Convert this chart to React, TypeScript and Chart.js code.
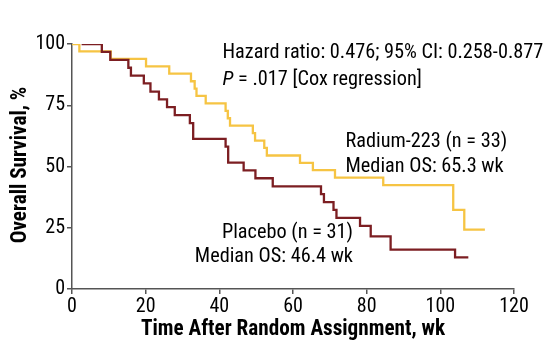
import React, { useEffect, useRef } from "react";
import { Chart, registerables } from "chart.js";

Chart.register(...registerables);

const radiumTimes = [0, 2.0, 10.5, 20.1, 26.4, 32.3, 33.3, 33.8, 36.3, 41.7, 42.3, 42.9, 49.1, 49.7, 52.2, 52.9, 61.9, 65.4, 71.4, 84.5, 103.5, 106.5, 112.1];
const radiumSurvival = [100, 97.0, 93.9, 90.9, 87.9, 84.8, 81.8, 78.8, 75.8, 72.7, 69.7, 66.7, 63.6, 60.6, 57.6, 54.5, 51.5, 48.5, 45.5, 42.4, 32.3, 24.2, 24.2];

const placeboTimes = [2.6, 8.1, 10.4, 15.3, 16.0, 19.5, 21.3, 23.6, 25.8, 27.9, 32.0, 32.9, 41.7, 42.4, 46.6, 49.8, 54.5, 67.6, 68.4, 71.0, 71.8, 78.2, 81.1, 86.5, 104.0, 107.6];
const placeboSurvival = [100, 96.8, 93.5, 90.3, 87.1, 83.9, 80.6, 77.4, 74.2, 71.0, 67.7, 61.3, 58.1, 51.6, 48.4, 45.2, 41.9, 38.7, 35.5, 32.3, 29.0, 25.8, 21.5, 16.1, 12.9, 12.9];

const xTicks = [0, 20, 40, 60, 80, 100, 120];
const yTicks = [0, 25, 50, 75, 100];

const xTitle = "Time After Random Assignment, wk";
const yTitle = "Overall Survival, %";
const hrText = "Hazard ratio: 0.476; 95% CI: 0.258-0.877";
const pLabel = "P";
const pText = " = .017 [Cox regression]";
const radiumLines = ["Radium-223 (n = 33)", "Median OS: 65.3 wk"];
const placeboLines = ["Placebo (n = 31)", "Median OS: 46.4 wk"];

const FAMILY = '"Roboto Condensed", Roboto, sans-serif';
const YELLOW = "#F6C443";
const MAROON = "#7C1E22";
const AXIS = "#555555";

export default function App() {
  const ref = useRef<HTMLCanvasElement | null>(null);

  useEffect(() => {
    if (!ref.current) return;
    const textPlugin = {
      id: "texts",
      afterDraw(chart: any) {
        const ctx = chart.ctx as CanvasRenderingContext2D;
        ctx.save();
        ctx.fillStyle = "#000";
        ctx.textBaseline = "middle";
        ctx.font = `20.3px ${FAMILY}`;
        ctx.textAlign = "left";
        ctx.fillText(hrText, 222.5, 53);
        ctx.font = `italic 20.3px ${FAMILY}`;
        ctx.fillText(pLabel, 222.5, 80);
        const pw = ctx.measureText(pLabel).width;
        ctx.font = `20.3px ${FAMILY}`;
        ctx.fillText(pText, 222.5 + pw, 80);
        ctx.fillText(radiumLines[0], 345.5, 141.5);
        ctx.fillText(radiumLines[1], 345.5, 166.5);
        ctx.textAlign = "right";
        ctx.fillText(placeboLines[0], 353, 233);
        ctx.fillText(placeboLines[1], 353, 257);
        ctx.font = `bold 21.2px ${FAMILY}`;
        ctx.textAlign = "center";
        ctx.fillText(xTitle, 293, 330);
        ctx.translate(21, 165);
        ctx.rotate(-Math.PI / 2);
        ctx.fillText(yTitle, 0, 0);
        ctx.restore();
      },
    };

    const chart = new Chart(ref.current, {
      type: "line",
      data: {
        datasets: [
          {
            label: "Placebo",
            data: placeboTimes.map((t, i) => ({ x: t, y: placeboSurvival[i] })),
            borderColor: MAROON,
            backgroundColor: MAROON,
            borderWidth: 2.3,
            pointRadius: 0,
            stepped: "before",
            fill: false,
          },
          {
            label: "Radium-223",
            data: radiumTimes.map((t, i) => ({ x: t, y: radiumSurvival[i] })),
            borderColor: YELLOW,
            backgroundColor: YELLOW,
            borderWidth: 2.3,
            pointRadius: 0,
            stepped: "before",
            fill: false,
          },
        ],
      },
      options: {
        responsive: false,
        animation: false,
        events: [],
        layout: { padding: { top: 44, right: 40, left: 0, bottom: 0 } },
        plugins: { legend: { display: false }, tooltip: { enabled: false } },
        scales: {
          x: {
            type: "linear",
            min: 0,
            max: 120,
            afterBuildTicks: (scale: any) => {
              scale.ticks = xTicks.map((v) => ({ value: v }));
            },
            afterFit: (scale: any) => {
              scale.height = 60;
            },
            ticks: { color: "#000", font: { family: FAMILY, size: 20 }, padding: 1, maxRotation: 0 },
            grid: { drawOnChartArea: false, drawTicks: true, tickLength: 5, color: AXIS, lineWidth: 1.5 },
            border: { color: AXIS, width: 1.5 },
          },
          y: {
            type: "linear",
            min: 0,
            max: 100,
            afterBuildTicks: (scale: any) => {
              scale.ticks = yTicks.map((v) => ({ value: v }));
            },
            afterFit: (scale: any) => {
              scale.width = 72;
            },
            ticks: { color: "#000", font: { family: FAMILY, size: 20 }, padding: 2 },
            grid: { drawOnChartArea: false, drawTicks: true, tickLength: 5, color: AXIS, lineWidth: 1.5 },
            border: { color: AXIS, width: 1.5 },
          },
        },
      },
      plugins: [textPlugin],
    } as any);
    return () => chart.destroy();
  }, []);

  return (
    <div style={{ position: "absolute", left: 0, top: 0, width: 554, height: 349, background: "#fff" }}>
      <canvas ref={ref} width={554} height={349} style={{ width: 554, height: 349, display: "block" }} />
    </div>
  );
}
